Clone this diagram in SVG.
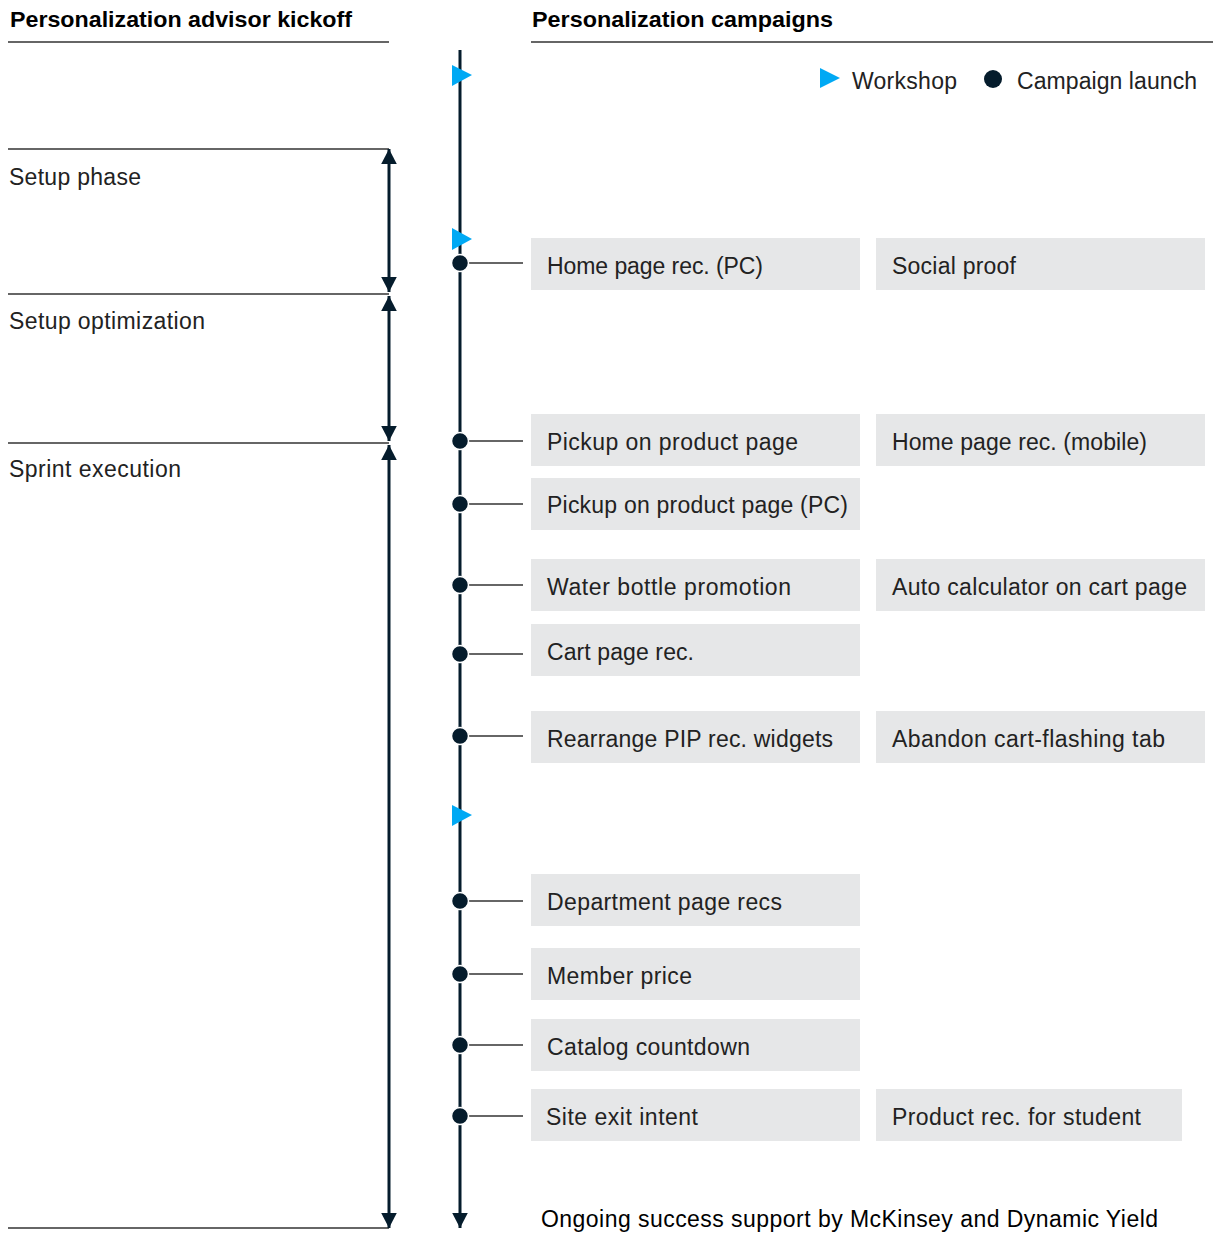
<svg xmlns="http://www.w3.org/2000/svg" width="1219" height="1233" viewBox="0 0 1219 1233">
<style>
.hdr{font-family:"Liberation Sans",Arial,sans-serif;font-weight:bold;font-size:22px;fill:#000}
.lbl{font-family:"Liberation Sans",Arial,sans-serif;font-size:23px;fill:#222}
.box{fill:#e6e7e8}
.rule{stroke:#333;stroke-width:1.3;fill:none}
.conn{stroke:#333;stroke-width:1.5;fill:none}
.axis{stroke:#051c2c;stroke-width:3;fill:none}
.dot{fill:#051c2c;stroke:#fff;stroke-width:1.5}
.ws{fill:#00a9f4}
</style>
<defs>
<marker id="ah" markerWidth="6" markerHeight="6" refX="5" refY="3" orient="auto-start-reverse" markerUnits="strokeWidth"><path d="M0,0.4 L5,3 L0,5.6 z" fill="#051c2c"/></marker>
</defs>
<g id="headers">
<text class="hdr" x="10" y="27" textLength="342" lengthAdjust="spacingAndGlyphs">Personalization advisor kickoff</text>
<line class="rule" x1="8" y1="42" x2="389" y2="42"/>
<text class="hdr" x="532" y="27" textLength="301" lengthAdjust="spacingAndGlyphs">Personalization campaigns</text>
<line class="rule" x1="531" y1="42" x2="1213" y2="42"/>
</g>
<g id="legend">
<polygon class="ws" points="820,68 840,78 820,88"/>
<text class="lbl" x="852" y="89" textLength="105">Workshop</text>
<circle cx="993" cy="79" r="9" fill="#051c2c"/>
<text class="lbl" x="1017" y="89" textLength="180">Campaign launch</text>
</g>
<g id="phases">
<line class="rule" x1="8" y1="149" x2="389" y2="149"/>
<line class="rule" x1="8" y1="294" x2="389" y2="294"/>
<line class="rule" x1="8" y1="443" x2="389" y2="443"/>
<line class="rule" x1="8" y1="1228" x2="389" y2="1228"/>
<text class="lbl" x="9" y="185" textLength="132">Setup phase</text>
<text class="lbl" x="9" y="329" textLength="196">Setup optimization</text>
<text class="lbl" x="9" y="477" textLength="172">Sprint execution</text>
</g>
<g id="connectors">
<line class="axis" x1="389" y1="149" x2="389" y2="292" marker-start="url(#ah)" marker-end="url(#ah)"/>
<line class="axis" x1="389" y1="296" x2="389" y2="441" marker-start="url(#ah)" marker-end="url(#ah)"/>
<line class="axis" x1="389" y1="445" x2="389" y2="1228" marker-start="url(#ah)" marker-end="url(#ah)"/>
<line class="axis" x1="460" y1="50" x2="460" y2="1228" marker-end="url(#ah)"/>
<line class="conn" x1="460" y1="263" x2="523" y2="263"/>
<line class="conn" x1="460" y1="441" x2="523" y2="441"/>
<line class="conn" x1="460" y1="504" x2="523" y2="504"/>
<line class="conn" x1="460" y1="585" x2="523" y2="585"/>
<line class="conn" x1="460" y1="654" x2="523" y2="654"/>
<line class="conn" x1="460" y1="736" x2="523" y2="736"/>
<line class="conn" x1="460" y1="901" x2="523" y2="901"/>
<line class="conn" x1="460" y1="974" x2="523" y2="974"/>
<line class="conn" x1="460" y1="1045" x2="523" y2="1045"/>
<line class="conn" x1="460" y1="1116" x2="523" y2="1116"/>
</g>
<g id="workshops">
<polygon class="ws" points="452,65 472,75 452,86"/>
<polygon class="ws" points="452,228 472,239 452,250"/>
<polygon class="ws" points="452,805 472,815 452,826"/>
</g>
<g id="launches">
<circle class="dot" cx="460" cy="263" r="8.5"/>
<circle class="dot" cx="460" cy="441" r="8.5"/>
<circle class="dot" cx="460" cy="504" r="8.5"/>
<circle class="dot" cx="460" cy="585" r="8.5"/>
<circle class="dot" cx="460" cy="654" r="8.5"/>
<circle class="dot" cx="460" cy="736" r="8.5"/>
<circle class="dot" cx="460" cy="901" r="8.5"/>
<circle class="dot" cx="460" cy="974" r="8.5"/>
<circle class="dot" cx="460" cy="1045" r="8.5"/>
<circle class="dot" cx="460" cy="1116" r="8.5"/>
</g>
<g id="n1"><rect class="box" x="531" y="238" width="329" height="52"/><text class="lbl" x="547" y="274" textLength="216">Home page rec. (PC)</text></g>
<g id="n2"><rect class="box" x="876" y="238" width="329" height="52"/><text class="lbl" x="892" y="274" textLength="124">Social proof</text></g>
<g id="n3"><rect class="box" x="531" y="414" width="329" height="52"/><text class="lbl" x="547" y="450" textLength="251">Pickup on product page</text></g>
<g id="n4"><rect class="box" x="876" y="414" width="329" height="52"/><text class="lbl" x="892" y="450" textLength="255">Home page rec. (mobile)</text></g>
<g id="n5"><rect class="box" x="531" y="478" width="329" height="52"/><text class="lbl" x="547" y="513" textLength="301">Pickup on product page (PC)</text></g>
<g id="n6"><rect class="box" x="531" y="559" width="329" height="52"/><text class="lbl" x="547" y="595" textLength="244">Water bottle promotion</text></g>
<g id="n7"><rect class="box" x="876" y="559" width="329" height="52"/><text class="lbl" x="892" y="595" textLength="295">Auto calculator on cart page</text></g>
<g id="n8"><rect class="box" x="531" y="624" width="329" height="52"/><text class="lbl" x="547" y="660" textLength="147">Cart page rec.</text></g>
<g id="n9"><rect class="box" x="531" y="711" width="329" height="52"/><text class="lbl" x="547" y="747" textLength="286">Rearrange PIP rec. widgets</text></g>
<g id="n10"><rect class="box" x="876" y="711" width="329" height="52"/><text class="lbl" x="892" y="747" textLength="273">Abandon cart-flashing tab</text></g>
<g id="n11"><rect class="box" x="531" y="874" width="329" height="52"/><text class="lbl" x="547" y="910" textLength="235">Department page recs</text></g>
<g id="n12"><rect class="box" x="531" y="948" width="329" height="52"/><text class="lbl" x="547" y="984" textLength="145">Member price</text></g>
<g id="n13"><rect class="box" x="531" y="1019" width="329" height="52"/><text class="lbl" x="547" y="1055" textLength="203">Catalog countdown</text></g>
<g id="n14"><rect class="box" x="531" y="1089" width="329" height="52"/><text class="lbl" x="546" y="1125" textLength="152">Site exit intent</text></g>
<g id="n15"><rect class="box" x="876" y="1089" width="306" height="52"/><text class="lbl" x="892" y="1125" textLength="249">Product rec. for student</text></g>
<g id="footer"><text class="lbl" x="541" y="1227" textLength="617" style="fill:#000">Ongoing success support by McKinsey and Dynamic Yield</text></g>
</svg>
